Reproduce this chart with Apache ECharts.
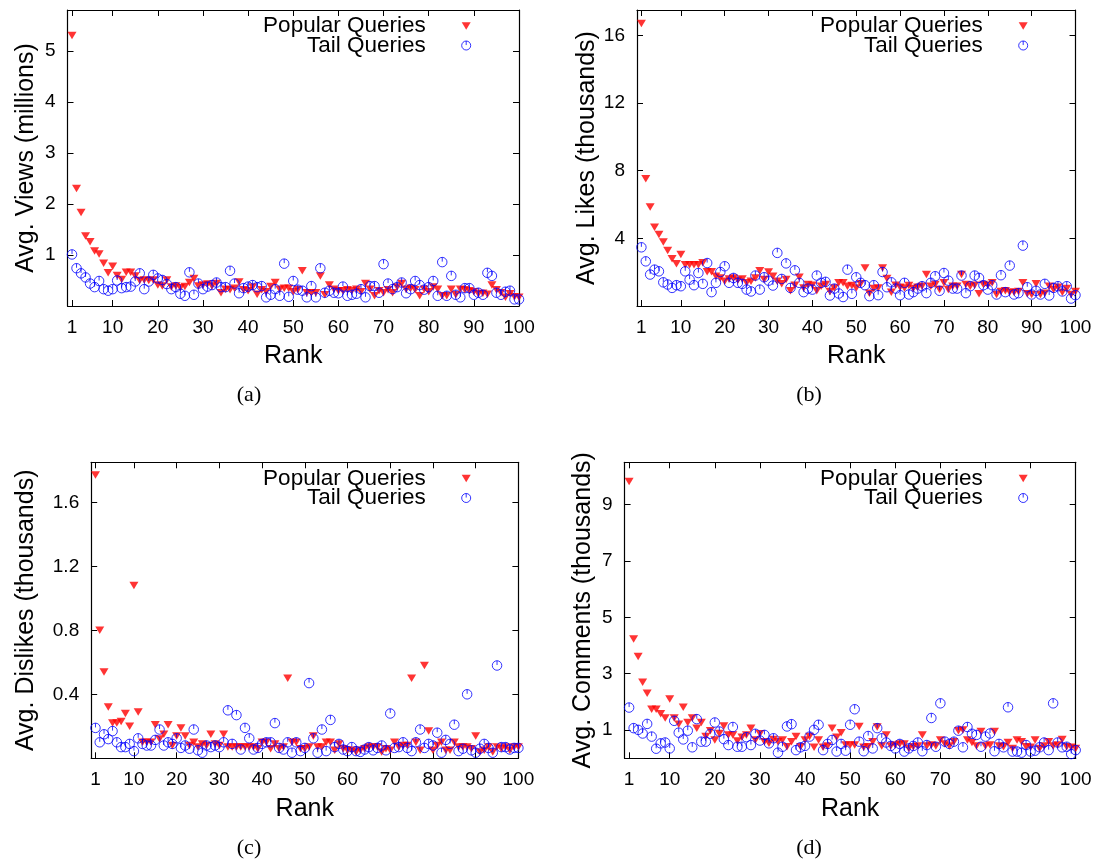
<!DOCTYPE html>
<html>
<head>
<meta charset="utf-8">
<script src="https://cdn.jsdelivr.net/npm/echarts@6/dist/echarts.min.js"></script>
<style>
  html, body { margin: 0; padding: 0; background: #fff; }
  #chart { width: 1099px; height: 859px; }
</style>
</head>
<body>
<div id="chart"></div>
<script>
// Rank of each query (x axis of every panel)
const ranks = Array.from({ length: 100 }, (_, i) => i + 1);
const rankTicks = [1, 10, 20, 30, 40, 50, 60, 70, 80, 90, 100];

// (a) average views, millions
const viewsPopular = [
  5.30, 2.30, 1.83, 1.37, 1.26, 1.08, 1.02, 0.84, 0.65, 0.78,
  0.60, 0.52, 0.66, 0.66, 0.59, 0.50, 0.51, 0.50, 0.51, 0.41,
  0.39, 0.51, 0.37, 0.39, 0.36, 0.38, 0.46, 0.54, 0.39, 0.41,
  0.43, 0.39, 0.44, 0.26, 0.33, 0.32, 0.35, 0.47, 0.32, 0.30,
  0.37, 0.23, 0.32, 0.28, 0.38, 0.46, 0.33, 0.35, 0.35, 0.28,
  0.32, 0.69, 0.26, 0.26, 0.26, 0.59, 0.22, 0.41, 0.33, 0.30,
  0.30, 0.32, 0.30, 0.33, 0.28, 0.44, 0.33, 0.20, 0.30, 0.26,
  0.32, 0.26, 0.37, 0.44, 0.33, 0.35, 0.32, 0.20, 0.33, 0.28,
  0.37, 0.33, 0.20, 0.20, 0.33, 0.22, 0.33, 0.32, 0.30, 0.28,
  0.24, 0.25, 0.23, 0.41, 0.32, 0.26, 0.17, 0.24, 0.18, 0.17
];
const viewsTail = [
  1.01, 0.74, 0.64, 0.56, 0.44, 0.37, 0.49, 0.33, 0.30, 0.33,
  0.50, 0.35, 0.37, 0.38, 0.48, 0.64, 0.33, 0.48, 0.61, 0.54,
  0.51, 0.43, 0.33, 0.37, 0.24, 0.20, 0.66, 0.22, 0.44, 0.33,
  0.38, 0.41, 0.46, 0.37, 0.37, 0.69, 0.44, 0.25, 0.35, 0.38,
  0.41, 0.37, 0.39, 0.17, 0.22, 0.33, 0.20, 0.83, 0.18, 0.49,
  0.32, 0.30, 0.17, 0.39, 0.17, 0.74, 0.26, 0.30, 0.26, 0.25,
  0.38, 0.20, 0.22, 0.24, 0.33, 0.17, 0.39, 0.39, 0.26, 0.82,
  0.44, 0.33, 0.37, 0.46, 0.25, 0.33, 0.49, 0.41, 0.32, 0.37,
  0.49, 0.20, 0.86, 0.20, 0.59, 0.22, 0.17, 0.35, 0.35, 0.22,
  0.26, 0.22, 0.65, 0.59, 0.26, 0.22, 0.28, 0.30, 0.13, 0.13
];

// (b) average likes, thousands
const likesPopular = [
  16.7, 7.53, 5.85, 4.65, 4.22, 3.78, 3.28, 2.80, 2.50, 3.04,
  2.44, 2.44, 2.44, 2.44, 2.56, 2.02, 2.02, 1.76, 1.66, 1.46,
  1.60, 1.66, 1.52, 1.60, 1.37, 1.46, 1.66, 2.09, 1.56, 2.01,
  1.76, 1.46, 1.31, 1.56, 0.90, 1.23, 1.70, 1.07, 1.27, 1.23,
  0.90, 1.17, 1.27, 0.86, 1.07, 1.37, 1.37, 1.17, 1.21, 1.07,
  1.31, 2.25, 0.76, 1.03, 1.07, 2.25, 1.62, 0.82, 1.23, 1.11,
  1.07, 1.21, 1.03, 1.11, 1.17, 1.86, 1.17, 1.27, 0.97, 1.37,
  0.97, 1.17, 1.17, 1.86, 1.27, 1.17, 1.23, 0.72, 1.27, 1.23,
  1.37, 0.68, 0.86, 0.90, 0.82, 0.82, 0.86, 1.37, 0.72, 0.68,
  1.31, 0.68, 0.76, 1.17, 0.97, 1.11, 0.82, 1.03, 0.68, 0.86
];
const likesTail = [
  3.47, 2.64, 1.86, 2.15, 2.05, 1.40, 1.27, 1.07, 1.23, 1.17,
  2.05, 1.56, 1.23, 1.95, 1.31, 2.54, 0.82, 1.37, 2.01, 2.35,
  1.37, 1.66, 1.37, 1.31, 0.97, 0.86, 1.80, 0.97, 1.70, 1.50,
  1.21, 3.14, 1.60, 2.52, 1.07, 2.11, 1.37, 0.82, 1.03, 0.97,
  1.80, 1.37, 1.43, 0.62, 1.03, 0.74, 0.53, 2.15, 0.72, 1.70,
  1.37, 1.23, 0.58, 1.23, 0.64, 2.01, 1.11, 1.40, 1.03, 0.64,
  1.37, 0.68, 0.82, 1.03, 1.17, 0.76, 1.37, 1.76, 0.90, 1.95,
  1.50, 1.03, 1.03, 1.80, 0.76, 1.17, 1.80, 1.66, 1.23, 0.97,
  1.23, 0.68, 1.82, 0.82, 2.39, 0.68, 0.76, 3.57, 1.11, 0.68,
  0.90, 0.68, 1.31, 0.62, 1.07, 1.17, 0.86, 1.17, 0.44, 0.64
];

// (c) average dislikes, thousands
const dislikesPopular = [
  1.77, 0.80, 0.54, 0.32, 0.22, 0.22, 0.23, 0.28, 0.20, 1.08,
  0.29, 0.10, 0.10, 0.10, 0.21, 0.12, 0.15, 0.21, 0.08, 0.14,
  0.19, 0.14, 0.08, 0.10, 0.07, 0.09, 0.08, 0.15, 0.09, 0.08,
  0.15, 0.07, 0.07, 0.07, 0.07, 0.07, 0.07, 0.07, 0.06, 0.10,
  0.10, 0.06, 0.09, 0.06, 0.07, 0.50, 0.10, 0.10, 0.06, 0.06,
  0.07, 0.14, 0.07, 0.07, 0.10, 0.10, 0.05, 0.09, 0.06, 0.05,
  0.05, 0.04, 0.05, 0.06, 0.07, 0.07, 0.07, 0.04, 0.06, 0.05,
  0.10, 0.07, 0.08, 0.08, 0.50, 0.10, 0.05, 0.58, 0.17, 0.05,
  0.08, 0.10, 0.05, 0.05, 0.10, 0.07, 0.07, 0.07, 0.06, 0.14,
  0.04, 0.05, 0.07, 0.04, 0.07, 0.06, 0.07, 0.05, 0.07, 0.07
];
const dislikesTail = [
  0.19, 0.10, 0.15, 0.12, 0.17, 0.10, 0.07, 0.07, 0.09, 0.045,
  0.125, 0.09, 0.08, 0.08, 0.115, 0.18, 0.08, 0.10, 0.09, 0.125,
  0.065, 0.08, 0.06, 0.18, 0.05, 0.035, 0.08, 0.07, 0.08, 0.07,
  0.10, 0.30, 0.09, 0.27, 0.055, 0.19, 0.125, 0.055, 0.065, 0.09,
  0.10, 0.10, 0.22, 0.065, 0.055, 0.10, 0.035, 0.10, 0.045, 0.065,
  0.47, 0.125, 0.035, 0.18, 0.045, 0.24, 0.07, 0.09, 0.055, 0.045,
  0.07, 0.045, 0.04, 0.055, 0.07, 0.05, 0.065, 0.08, 0.05, 0.28,
  0.065, 0.07, 0.10, 0.065, 0.045, 0.10, 0.18, 0.065, 0.09, 0.08,
  0.16, 0.035, 0.115, 0.09, 0.21, 0.045, 0.06, 0.40, 0.05, 0.035,
  0.06, 0.09, 0.065, 0.035, 0.58, 0.07, 0.07, 0.055, 0.065, 0.065
];

// (d) average comments, thousands
const commentsPopular = [
  9.82, 4.23, 3.61, 2.70, 2.31, 1.74, 1.74, 1.58, 1.43, 2.10,
  1.43, 1.21, 1.81, 1.27, 1.43, 1.07, 1.27, 0.77, 0.98, 0.65,
  0.88, 1.15, 0.83, 0.83, 0.61, 0.75, 0.83, 1.07, 0.65, 0.87,
  0.59, 0.53, 0.67, 0.59, 0.65, 0.41, 0.59, 0.77, 0.41, 0.65,
  0.77, 0.39, 0.65, 0.39, 0.44, 1.07, 0.75, 0.91, 0.47, 0.47,
  0.47, 1.13, 0.39, 0.41, 0.59, 1.11, 0.44, 0.83, 0.44, 0.47,
  0.51, 0.51, 0.35, 0.41, 0.44, 0.83, 0.44, 0.47, 0.44, 0.65,
  0.51, 0.44, 0.59, 0.98, 1.00, 0.65, 0.56, 0.44, 0.95, 0.44,
  0.47, 0.95, 0.44, 0.41, 0.56, 0.35, 0.65, 0.59, 0.41, 0.39,
  0.65, 0.35, 0.44, 0.59, 0.44, 0.47, 0.67, 0.41, 0.39, 0.35
];
const commentsTail = [
  1.80, 1.07, 1.01, 0.88, 1.22, 0.77, 0.34, 0.53, 0.56, 0.35,
  1.33, 0.91, 0.67, 0.98, 0.39, 1.39, 0.59, 0.59, 0.87, 1.27,
  0.95, 0.68, 0.47, 1.11, 0.41, 0.41, 0.75, 0.47, 0.87, 0.63,
  0.83, 0.53, 0.71, 0.20, 0.41, 1.13, 1.21, 0.29, 0.39, 0.44,
  0.77, 1.01, 1.19, 0.29, 0.51, 0.65, 0.24, 0.51, 0.27, 1.19,
  1.74, 0.59, 0.25, 0.79, 0.35, 1.07, 0.71, 0.56, 0.44, 0.35,
  0.51, 0.24, 0.35, 0.44, 0.56, 0.25, 0.47, 1.43, 0.41, 1.95,
  0.59, 0.51, 0.59, 0.98, 0.39, 1.11, 0.87, 0.83, 0.41, 0.77,
  0.88, 0.25, 0.51, 0.39, 1.81, 0.24, 0.24, 0.20, 0.47, 0.24,
  0.27, 0.39, 0.56, 0.29, 1.95, 0.56, 0.39, 0.41, 0.15, 0.29
];

// y-axis tick labels of each panel
const viewsTicks = [1, 2, 3, 4, 5];
const likesTicks = [4, 8, 12, 16];
const dislikesTicks = [0.4, 0.8, 1.2, 1.6];
const commentsTicks = [1, 3, 5, 7, 9];

const seriesNames = ['Popular Queries', 'Tail Queries'];

const SANS = '"Liberation Sans", Arial, Helvetica, sans-serif';
const SERIF = '"Liberation Serif", "DejaVu Serif", serif';
const TRI_DOWN = 'path://M0,0 L10,0 L5,8.6 Z';
const RING = 'path://M10,0 A10,10 0 1 1 9.99,0 Z M10,0 L10,9';

const panels = [
  { grid: { left: 67.5, top: 10, width: 451.5, height: 296 }, yMax: 5.8, ticks: viewsTicks,
    yName: 'Avg. Views (millions)', yGap: 29, xGap: 38, caption: '(a)', capX: 249, capY: 395,
    popular: viewsPopular, tail: viewsTail, legendRight: 627.8, legendTop: 14.5 },
  { grid: { left: 637, top: 10, width: 438.5, height: 296 }, yMax: 17.5, ticks: likesTicks,
    yName: 'Avg. Likes (thousands)', yGap: 36, xGap: 38, caption: '(b)', capX: 809, capY: 395,
    popular: likesPopular, tail: likesTail, legendRight: 70.8, legendTop: 14.5 },
  { grid: { left: 91.2, top: 462.3, width: 427.2, height: 296 }, yMax: 1.85, ticks: dislikesTicks,
    yName: 'Avg. Dislikes (thousands)', yGap: 53, xGap: 38, caption: '(c)', capX: 249, capY: 848,
    popular: dislikesPopular, tail: dislikesTail, legendRight: 627.8, legendTop: 467 },
  { grid: { left: 624.6, top: 462.3, width: 451.1, height: 296 }, yMax: 10.5, ticks: commentsTicks,
    yName: 'Avg. Comments (thousands)', yGap: 29, xGap: 38, caption: '(d)', capX: 809, capY: 848,
    popular: commentsPopular, tail: commentsTail, legendRight: 70.8, legendTop: 467 }
];

const frameLine = { show: true, onZero: false, lineStyle: { color: '#000', width: 1.2 } };
const tickStyle = { color: '#000', width: 1 };
const labelFont = { color: '#000', fontSize: 19, fontFamily: SANS };
const titleFont = { color: '#000', fontSize: 25, fontFamily: SANS };

const option = {
  animation: false,
  backgroundColor: '#fff',
  grid: [], xAxis: [], yAxis: [], series: [], legend: [], graphic: []
};

panels.forEach((p, i) => {
  option.grid.push(Object.assign({ containLabel: false }, p.grid));
  // bottom (labelled) and top (mirror) rank axes
  option.xAxis.push({
    gridIndex: i, type: 'value', position: 'bottom', min: 0, max: 100,
    axisLine: frameLine,
    axisTick: { inside: true, length: 6, customValues: rankTicks, lineStyle: tickStyle },
    axisLabel: Object.assign({ customValues: rankTicks, margin: 12 }, labelFont),
    splitLine: { show: false },
    name: 'Rank', nameLocation: 'middle', nameGap: p.xGap, nameTextStyle: titleFont
  });
  option.xAxis.push({
    gridIndex: i, type: 'value', position: 'top', min: 0, max: 100,
    axisLine: frameLine,
    axisTick: { inside: true, length: 6, customValues: rankTicks, lineStyle: tickStyle },
    axisLabel: { show: false }, splitLine: { show: false }
  });
  // left (labelled) and right (mirror) value axes
  option.yAxis.push({
    gridIndex: i, type: 'value', position: 'left', min: 0, max: p.yMax,
    axisLine: frameLine,
    axisTick: { inside: true, length: 6, customValues: p.ticks, lineStyle: tickStyle },
    axisLabel: Object.assign({ customValues: p.ticks, margin: 12 }, labelFont),
    splitLine: { show: false },
    name: p.yName, nameLocation: 'middle', nameGap: p.yGap, nameTextStyle: titleFont
  });
  option.yAxis.push({
    gridIndex: i, type: 'value', position: 'right', min: 0, max: p.yMax,
    axisLine: frameLine,
    axisTick: { inside: true, length: 6, customValues: p.ticks, lineStyle: tickStyle },
    axisLabel: { show: false }, splitLine: { show: false }
  });

  option.series.push({
    type: 'scatter', name: seriesNames[0], xAxisIndex: 2 * i, yAxisIndex: 2 * i,
    data: ranks.map((r, k) => [r, p.popular[k]]),
    symbol: TRI_DOWN, symbolSize: [9, 7.5],
    itemStyle: { color: '#ff0000' }, silent: true
  });
  option.series.push({
    type: 'scatter', name: seriesNames[1], xAxisIndex: 2 * i, yAxisIndex: 2 * i,
    data: ranks.map((r, k) => [r, p.tail[k]]),
    symbol: RING, symbolSize: 9.5,
    itemStyle: { color: 'rgba(0,0,0,0)', borderColor: '#0000ff', borderWidth: 1 }, silent: true
  });

  option.legend.push({
    orient: 'vertical', align: 'right', right: p.legendRight, top: p.legendTop,
    padding: 0, itemGap: -3.5, itemWidth: 9, itemHeight: 9, selectedMode: false,
    textStyle: { color: '#000', fontSize: 22.5, fontFamily: SANS, padding: [0, 31, 0, 0] },
    data: [
      { name: seriesNames[0], icon: TRI_DOWN, itemStyle: { color: '#ff0000' } },
      { name: seriesNames[1], icon: RING,
        itemStyle: { color: 'rgba(0,0,0,0)', borderColor: '#0000ff', borderWidth: 1 } }
    ]
  });

  option.graphic.push({
    type: 'text', x: p.capX, y: p.capY, silent: true,
    style: { text: p.caption, fill: '#000', fontSize: 22, fontFamily: SERIF,
             align: 'center', verticalAlign: 'middle' }
  });
});

const chart = echarts.init(document.getElementById('chart'), null, { renderer: 'canvas' });
chart.setOption(option);
</script>
</body>
</html>
